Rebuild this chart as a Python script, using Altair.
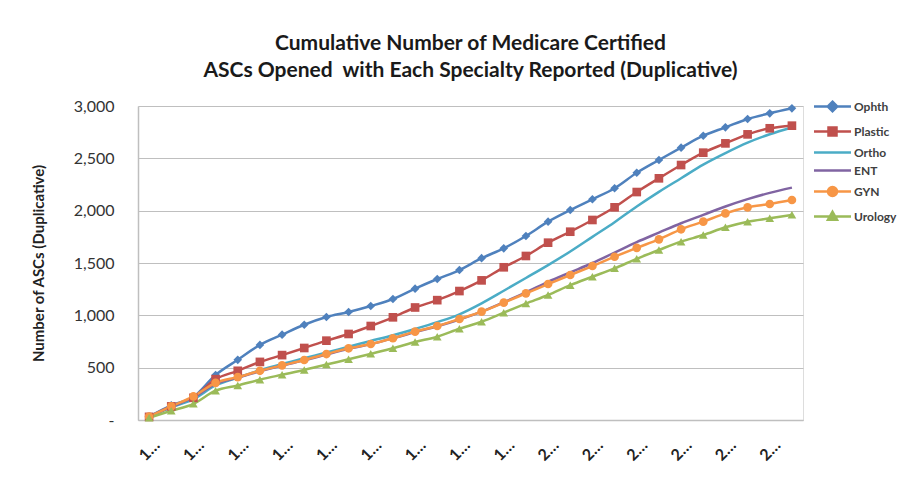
import altair as alt
import pandas as pd

years = list(range(1982, 2012))
series_names = ["Ophth", "Plastic", "Ortho", "ENT", "GYN", "Urology"]

ophth = [32, 140, 220, 430, 575, 717, 815, 910, 984, 1032, 1089, 1156, 1255, 1347, 1433,
         1546, 1640, 1758, 1895, 2006, 2109, 2214, 2362, 2484, 2602, 2716, 2796, 2876, 2930, 2978]
plastic = [30, 130, 212, 390, 470, 555, 620, 688, 758, 822, 898, 981, 1075, 1145, 1232,
           1334, 1459, 1567, 1694, 1799, 1911, 2032, 2178, 2309, 2436, 2554, 2643, 2729, 2787, 2812]
ortho = [30, 120, 200, 330, 405, 475, 535, 590, 645, 700, 755, 810, 870, 935, 1010,
         1115, 1235, 1357, 1480, 1610, 1750, 1890, 2040, 2180, 2310, 2440, 2550, 2650, 2730, 2795]
ent = [30, 125, 215, 345, 405, 465, 520, 570, 625, 680, 725, 780, 840, 895, 960,
       1035, 1125, 1220, 1320, 1410, 1500, 1600, 1700, 1790, 1880, 1960, 2040, 2110, 2170, 2220]
gyn = [32, 130, 225, 355, 410, 470, 522, 573, 630, 685, 726, 781, 844, 898, 965,
       1035, 1121, 1210, 1299, 1385, 1471, 1560, 1645, 1726, 1822, 1895, 1974, 2032, 2064, 2102]
urology = [22, 88, 155, 280, 330, 385, 432, 478, 530, 580, 632, 685, 745, 796, 872,
           939, 1025, 1112, 1194, 1288, 1369, 1449, 1540, 1624, 1704, 1767, 1841, 1895, 1927, 1960]

colors = ["#4F81BD", "#C0504D", "#4BACC6", "#8064A2", "#F79646", "#9BBB59"]
marker_series = ["Ophth", "Plastic", "GYN", "Urology"]
marker_shapes = ["diamond", "square", "circle", "triangle-up"]
legend_symbols = [
    "M-3.7,0H3.7M0,-0.95L0.95,0L0,0.95L-0.95,0Z",
    "M-3.7,0H3.7M-0.8,-0.8H0.8V0.8H-0.8Z",
    "M-3.7,0H3.7",
    "M-3.7,0H3.7",
    "M-3.7,0H3.7M0.9,0A0.9,0.9,0,1,1,-0.9,0A0.9,0.9,0,1,1,0.9,0Z",
    "M-3.7,0H3.7M0,-0.95L0.9,0.65L-0.9,0.65Z",
]
y_ticks = [0, 500, 1000, 1500, 2000, 2500, 3000]
title_lines = ["Cumulative Number of Medicare Certified",
               "ASCs Opened\u00a0 with Each Specialty Reported (Duplicative)"]

rows = []
for name, vals in zip(series_names, [ophth, plastic, ortho, ent, gyn, urology]):
    for yr, v in zip(years, vals):
        rows.append({"year": yr, "series": name, "value": v})
df = pd.DataFrame(rows)

FONT = "Lato"

x_enc = alt.X(
    "year:O",
    scale=alt.Scale(type="point", padding=0.5),
    axis=alt.Axis(
        values=years[::2],
        labelExpr="substring(datum.label, 0, 1) + '…'",
        labelAngle=315,
        labelAlign="center",
        labelBaseline="middle",
        labelPadding=30,
        labelFontSize=16,
        labelFontWeight="bold",
        labelFont=FONT,
        labelColor="#222222",
        ticks=False,
        grid=False,
        domainColor="#BFBFBF",
        domainWidth=1.5,
        title=None,
    ),
)
y_enc = alt.Y(
    "value:Q",
    scale=alt.Scale(domain=[0, 3000], nice=False),
    axis=alt.Axis(
        values=y_ticks,
        labelExpr="datum.value == 0 ? '-\u00a0\u00a0' : format(datum.value, ',')",
        labelFontSize=16,
        labelFont=FONT,
        labelColor="#333333",
        labelPadding=24,
        ticks=False,
        gridColor="#BFBFBF",
        gridWidth=1,
        domainColor="#BFBFBF",
        domainWidth=1.5,
        title="Number of ASCs (Duplicative)",
        titleFont=FONT,
        titleFontSize=15,
        titleFontWeight="bold",
        titleColor="#222222",
        titlePadding=27,
    ),
)

color_scale = alt.Scale(domain=series_names, range=colors)

lines = alt.Chart(df).mark_line(strokeWidth=2.5, interpolate="monotone").encode(
    x=x_enc, y=y_enc,
    color=alt.Color("series:N", scale=color_scale, legend=None),
    detail="series:N",
)

points = alt.Chart(df).transform_filter(
    alt.FieldOneOfPredicate(field="series", oneOf=marker_series)
).mark_point(filled=True, size=75, opacity=1).encode(
    x=x_enc, y=y_enc,
    color=alt.Color("series:N", scale=color_scale, legend=None),
    shape=alt.Shape("series:N", scale=alt.Scale(domain=marker_series, range=marker_shapes), legend=None),
)

leg = alt.Legend(
    title=None, orient="none", legendX=688, legendY=-6, padding=0,
    labelFont=FONT, labelFontSize=12, labelFontWeight="bold", labelColor="#404040",
    symbolSize=100, symbolStrokeWidth=2.5, symbolOpacity=1,
    labelOffset=15, rowPadding=5,
)

legend_layer = alt.Chart(df).mark_point(opacity=0, filled=False).encode(
    x=x_enc, y=y_enc,
    color=alt.Color("series:N", scale=color_scale, legend=leg),
    fill=alt.Fill("series:N", scale=color_scale, legend=leg),
    shape=alt.Shape("series:N", scale=alt.Scale(domain=series_names, range=legend_symbols), legend=leg),
)

chart = alt.layer(lines, points, legend_layer).resolve_scale(
    color="independent", shape="independent", fill="independent"
).properties(
    width=665,
    height=314,
    padding={"left": 130, "top": 98, "right": 112, "bottom": 70},
    autosize=alt.AutoSizeParams(type="none"),
    title=alt.TitleParams(
        text=title_lines, anchor="middle", font=FONT, fontSize=21, fontWeight="bold",
        color="#1a1a1a", lineHeight=27, offset=17,
    ),
).configure_view(stroke=None).configure(background="white")

chart.save("out.html", embed_options={"renderer": "svg", "actions": False})
